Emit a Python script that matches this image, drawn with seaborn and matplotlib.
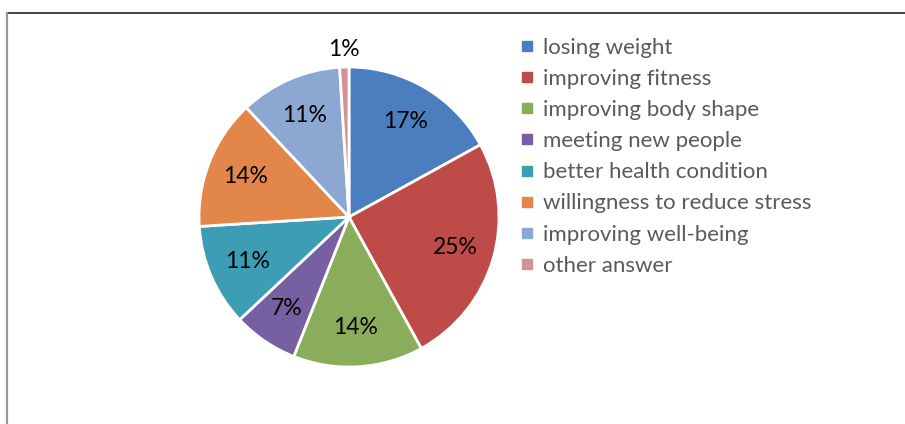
import matplotlib
matplotlib.use("Agg")
import matplotlib.pyplot as plt
import seaborn as sns
import numpy as np
from matplotlib.lines import Line2D

categories = ["losing weight", "improving fitness", "improving body shape",
              "meeting new people", "better health condition",
              "willingness to reduce stress", "improving well-being", "other answer"]
values = [17, 25, 14, 7, 11, 14, 11, 1]
colors = ["#4A7EBF", "#BE4B48", "#8AAD5C", "#7660A1", "#3C9DB5", "#E2864A", "#8CA7D2", "#D39395"]

sns.set_theme(style="white")
plt.rcParams['font.family'] = ['Lato', 'DejaVu Sans']
palette = sns.color_palette(colors)

fig = plt.figure(figsize=(9.05, 4.24), dpi=100)
W, H = 905, 424
cx, cy, r = 349, 217, 150
ax = fig.add_axes([(cx - r) / W, (H - cy - r) / H, 2 * r / W, 2 * r / H])

wedges, texts, autotexts = ax.pie(
    values, colors=palette, startangle=90, counterclock=False,
    autopct=lambda p: f"{p:.0f}%", pctdistance=0.74,
    wedgeprops=dict(edgecolor="white", linewidth=2),
    textprops=dict(fontsize=16.5, color="black"))

# place the tiny slice label outside
w = wedges[-1]
ang = np.deg2rad((w.theta1 + w.theta2) / 2)
autotexts[-1].set_position((1.12 * np.cos(ang), 1.12 * np.sin(ang)))

ax.set_xlim(-1, 1)
ax.set_ylim(-1, 1)
ax.set_aspect("equal")
ax.axis("off")

handles = [Line2D([0], [0], marker="s", linestyle="none", markersize=7,
                  markerfacecolor=c, markeredgecolor=c) for c in palette]
leg = fig.legend(handles, categories, loc="upper left",
                 bbox_to_anchor=(511 / W, 1 - 29 / H), frameon=False,
                 fontsize=16, labelcolor="#5A5A5A", handlelength=0.6,
                 handletextpad=0.45, labelspacing=0.5, borderaxespad=0)

# frame lines
fig.add_artist(Line2D([6.5 / W, 1.0], [1 - 12.5 / H, 1 - 12.5 / H],
                      transform=fig.transFigure, color="#222222", linewidth=1.2))
fig.add_artist(Line2D([7 / W, 7 / W], [1 - 12.5 / H, 0.0],
                      transform=fig.transFigure, color="#999999", linewidth=1.6))

fig.savefig("out.png", dpi=100, facecolor="white")
